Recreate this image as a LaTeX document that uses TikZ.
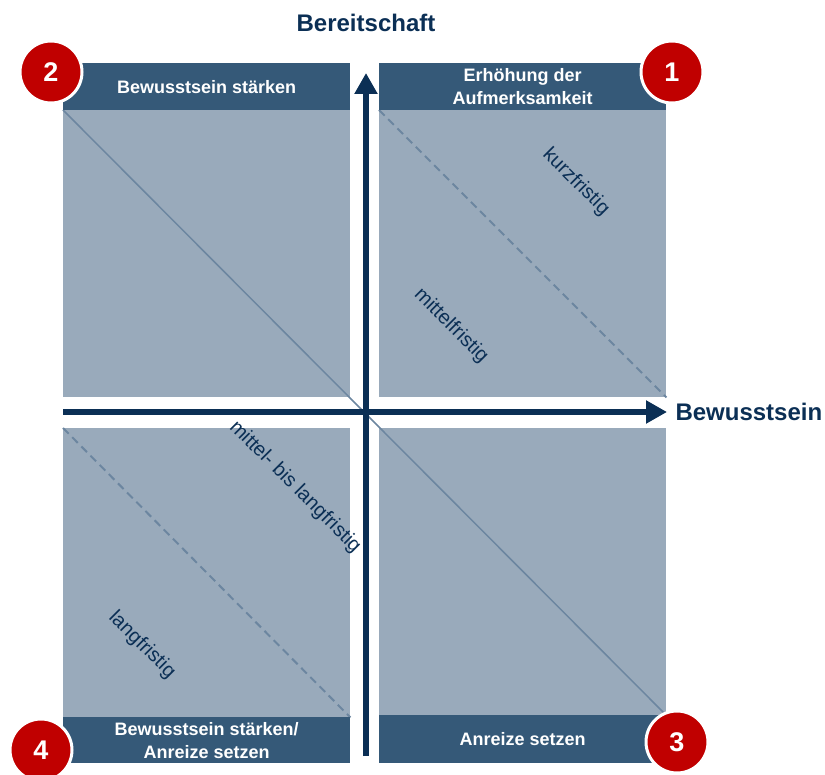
\documentclass[tikz,border=0pt]{standalone}
\usepackage{fontspec}
\setmainfont{Liberation Sans}
\usetikzlibrary{arrows.meta}

\definecolor{navy}{RGB}{11,47,85}
\definecolor{headblue}{RGB}{53,89,120}
\definecolor{fieldblue}{RGB}{153,170,187}
\definecolor{lineblue}{RGB}{108,134,160}
\definecolor{numred}{RGB}{192,0,0}

\tikzset{
	field/.style={fill=fieldblue, draw=none, minimum width=287pt, minimum height=287pt, inner sep=0pt, anchor=north west},
	header/.style={fill=headblue, text=white, font=\fontsize{18}{23}\selectfont\bfseries, minimum width=287pt, minimum height=47pt, inner sep=0pt, anchor=north west, align=center},
	number/.style={circle, fill=numred, draw=white, line width=3pt, minimum size=62pt, inner sep=0pt, text=white, font=\fontsize{27}{30}\selectfont\bfseries},
	term/.style={rotate=-45, text=navy, font=\fontsize{20}{24}\selectfont},
	axis/.style={draw=navy, line width=6pt, -{Triangle[length=21pt,width=22pt]}},
	axislabel/.style={text=navy, font=\fontsize{24}{28}\selectfont\bfseries}
}

\begin{document}
\begin{tikzpicture}[x=1pt, y=-1pt]
	\useasboundingbox (0,0) rectangle (825,775);
	
	% quadrant fields
	\node[field] (q2) at (63,110) {};
	\node[field] (q1) at (379,110) {};
	\node[field, minimum height=289pt] (q4) at (63,428) {};
	\node[field] (q3) at (379,428) {};
	
	% time lines
	\draw[lineblue, line width=1.5pt] (q2.north west) -- (q3.south east);
	\draw[lineblue, line width=2pt, dash pattern=on 8pt off 5pt] (q1.north west) -- (q1.south east);
	\draw[lineblue, line width=2pt, dash pattern=on 8pt off 5pt] (q4.north west) -- (q4.south east);
	
	% horizontal axis
	\coordinate (xstart) at (63,412);
	\coordinate (xend) at (667,412);
	\draw[axis] (xstart) -- (xend);
	\node[axislabel, anchor=west] (xlabel) at (672,412) {Bewusstsein};
	
	% vertical axis
	\coordinate (ystart) at (366,756);
	\coordinate (yend) at (366,73);
	\draw[axis] (ystart) -- (yend);
	\node[axislabel] (ylabel) at (366,23) {Bereitschaft};
	
	% headers
	\node[header] (h2) at (63,63) {Bewusstsein stärken};
	\node[header] (h1) at (379,63) {Erhöhung der\\Aufmerksamkeit};
	\node[header, minimum height=46pt] (h4) at (63,717) {Bewusstsein stärken/\\Anreize setzen};
	\node[header, minimum height=48pt] (h3) at (379,715) {Anreize setzen};
	
	% numbers
	\node[number] (n2) at (51,72) {2};
	\node[number] (n1) at (672,72) {1};
	\node[number] (n3) at (677,742) {3};
	\node[number] (n4) at (41,750) {4};
	
	% time labels
	\node[term] (kurz) at (576,182) {kurzfristig};
	\node[term] (mittel) at (451,326) {mittelfristig};
	\node[term] (mittellang) at (295,487) {mittel- bis langfristig};
	\node[term] (lang) at (142,645) {langfristig};
	
\end{tikzpicture}
\end{document}
